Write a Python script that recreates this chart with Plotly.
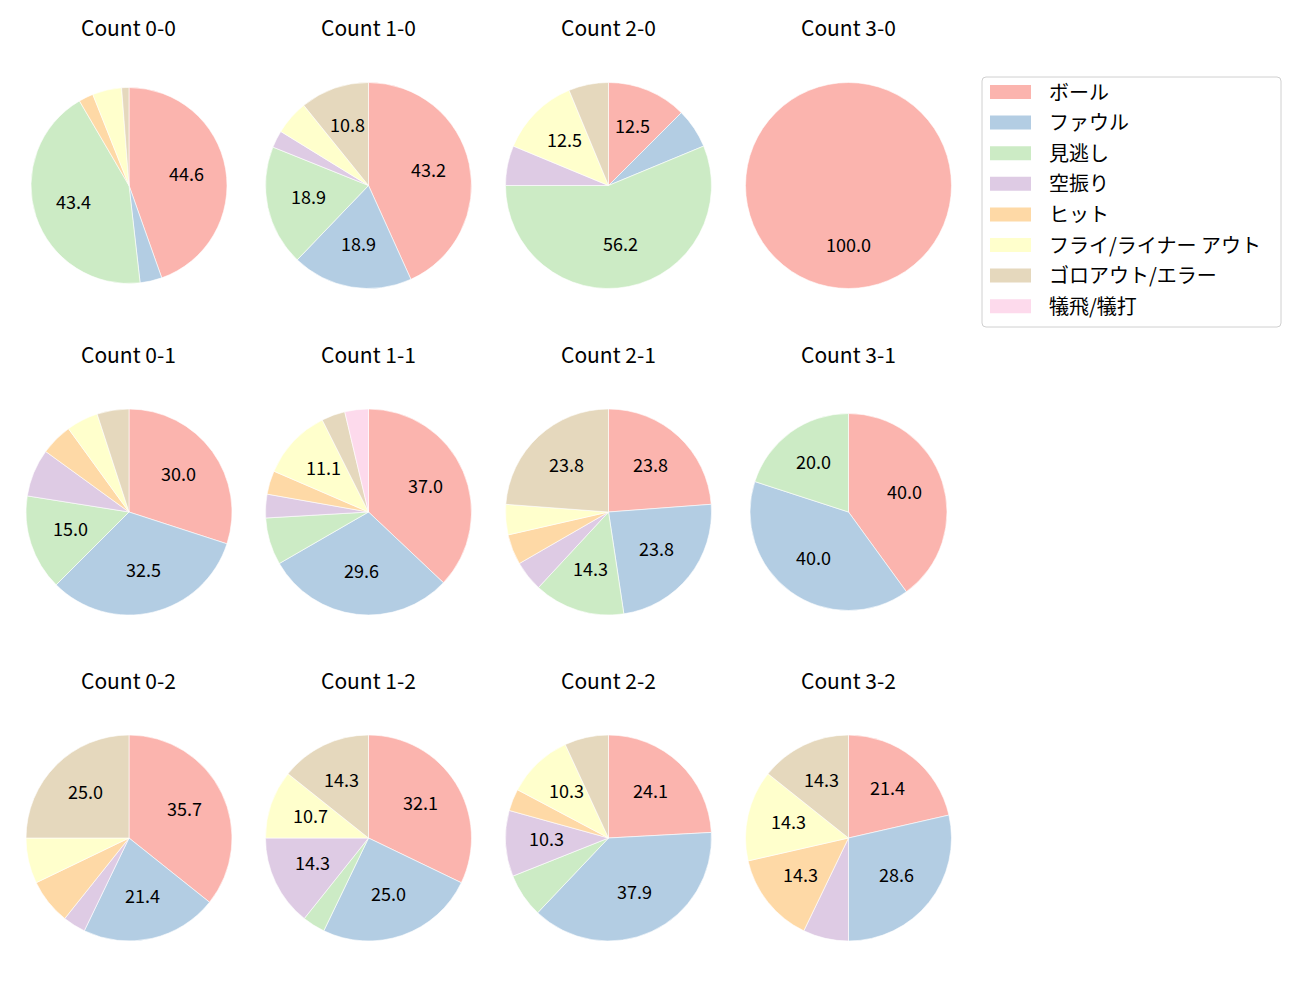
import math
import plotly.graph_objects as go

categories = ["ボール", "ファウル", "見逃し", "空振り", "ヒット",
              "フライ/ライナー アウト", "ゴロアウト/エラー", "犠飛/犠打"]
colors = ["#fbb4ae", "#b3cde3", "#ccebc5", "#decbe4", "#fed9a6",
          "#ffffcc", "#e5d8bd", "#fddaec"]

count_titles = ["Count 0-0", "Count 1-0", "Count 2-0", "Count 3-0",
                "Count 0-1", "Count 1-1", "Count 2-1", "Count 3-1",
                "Count 0-2", "Count 1-2", "Count 2-2", "Count 3-2"]

# counts per category (order = categories)
c00 = [37, 3, 36, 0, 2, 4, 1, 0]
c10 = [16, 7, 7, 1, 0, 2, 4, 0]
c20 = [2, 1, 9, 1, 0, 2, 1, 0]
c30 = [1, 0, 0, 0, 0, 0, 0, 0]
c01 = [12, 13, 6, 3, 2, 2, 2, 0]
c11 = [10, 8, 2, 1, 1, 3, 1, 1]
c21 = [5, 5, 3, 1, 1, 1, 5, 0]
c31 = [2, 2, 1, 0, 0, 0, 0, 0]
c02 = [10, 6, 0, 1, 2, 2, 7, 0]
c12 = [9, 7, 1, 4, 0, 3, 4, 0]
c22 = [7, 11, 2, 3, 1, 3, 2, 0]
c32 = [3, 4, 0, 1, 2, 2, 2, 0]
all_counts = [c00, c10, c20, c30, c01, c11, c21, c31, c02, c12, c22, c32]

W, H = 1300, 1000
OFF = 8  # page body margin offset
col_cx = [129 - OFF, 368.5 - OFF, 608.5 - OFF, 848.5 - OFF]
row_cy = [185.5 - OFF, 512 - OFF, 838 - OFF]
radius = [98, 103, 103, 103, 103, 103, 103, 98.5, 103, 103, 103, 103]
TEXT_NUDGE = 3  # font ascent compensation (px)

FONT = "Noto Sans CJK JP"
fig = go.Figure()
annotations = []
shapes = []

for i, vals in enumerate(all_counts):
    r_i, c_i = divmod(i, 4)
    cx, cy, r = col_cx[c_i], row_cy[r_i], radius[i]
    fig.add_trace(go.Pie(
        labels=categories, values=vals, sort=False, direction="clockwise",
        rotation=0,
        marker=dict(colors=colors,
                    line=dict(color="white", width=[0.6 if v > 0 else 0 for v in vals])),
        textinfo="none", hoverinfo="label+percent", showlegend=False,
        domain=dict(x=[(cx - r) / W, (cx + r) / W],
                    y=[1 - (cy + r) / H, 1 - (cy - r) / H]),
    ))
    total = sum(vals)
    cum = 0
    for v in vals:
        if v > 0:
            pct = 100 * v / total
            mid = 2 * math.pi * (cum + v / 2) / total
            if pct >= 10:
                tx = cx + 0.6 * r * math.sin(mid)
                ty = cy - 0.6 * r * math.cos(mid) - TEXT_NUDGE
                annotations.append(dict(
                    x=tx / W, y=1 - ty / H, xref="paper", yref="paper",
                    text=f"{pct:.1f}", showarrow=False,
                    font=dict(family=FONT, size=18, color="#000000"),
                    xanchor="center", yanchor="middle"))
        cum += v
    annotations.append(dict(
        x=cx / W, y=1 - (row_cy[r_i] - 158) / H, xref="paper", yref="paper",
        text=count_titles[i], showarrow=False,
        font=dict(family=FONT, size=21, color="#000000"),
        xanchor="center", yanchor="middle"))

# legend
lx0, ly0, lx1, ly1 = 982 - OFF, 77 - OFF, 1281 - OFF, 327 - OFF
rad = 4
path = (f"M {lx0+rad},{ly0} L {lx1-rad},{ly0} Q {lx1},{ly0} {lx1},{ly0+rad} "
        f"L {lx1},{ly1-rad} Q {lx1},{ly1} {lx1-rad},{ly1} L {lx0+rad},{ly1} "
        f"Q {lx0},{ly1} {lx0},{ly1-rad} L {lx0},{ly0+rad} Q {lx0},{ly0} {lx0+rad},{ly0} Z")
shapes.append(dict(type="path", xref="x", yref="y", path=path,
                   line=dict(color="#d0d0d0", width=1), fillcolor="white", layer="below"))
for k, (cat, col) in enumerate(zip(categories, colors)):
    yy = 92 - OFF + k * 30.6
    shapes.append(dict(type="rect", xref="x", yref="y", x0=990 - OFF, x1=1031 - OFF,
                       y0=yy - 7, y1=yy + 7, fillcolor=col, line=dict(width=0)))
    annotations.append(dict(x=1047 - OFF, y=yy - 1, xref="x", yref="y", text=cat,
                            showarrow=False, xanchor="left", yanchor="middle",
                            font=dict(family=FONT, size=20, color="#000000")))

fig.update_layout(
    width=W, height=H, margin=dict(l=0, r=0, t=0, b=0),
    paper_bgcolor="white", plot_bgcolor="rgba(0,0,0,0)",
    xaxis=dict(range=[0, W], visible=False, fixedrange=True),
    yaxis=dict(range=[H, 0], visible=False, fixedrange=True),
    annotations=annotations, shapes=shapes, showlegend=False,
)
fig.write_html("out.html")
